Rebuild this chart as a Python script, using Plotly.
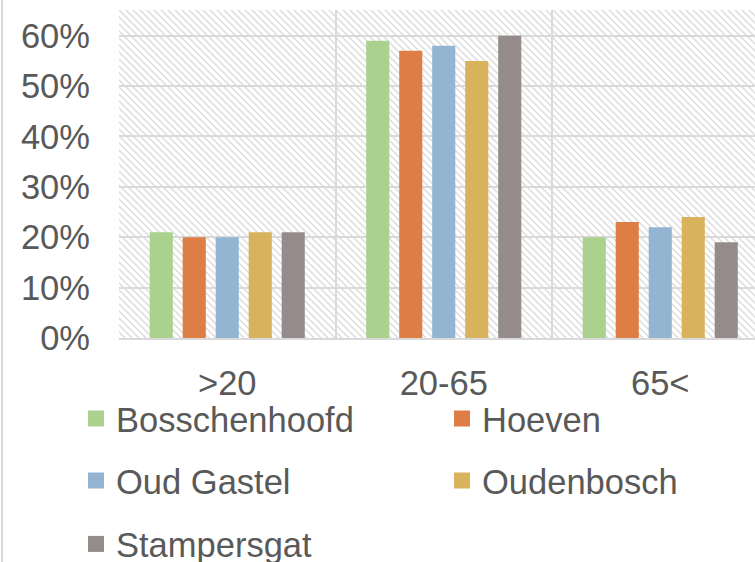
import base64
import plotly.graph_objects as go

categories = [">20", "20-65", "65<"]
series_names = ["Bosschenhoofd", "Hoeven", "Oud Gastel", "Oudenbosch", "Stampersgat"]
bosschenhoofd = [0.21, 0.59, 0.20]
hoeven = [0.20, 0.57, 0.23]
oud_gastel = [0.20, 0.58, 0.22]
oudenbosch = [0.21, 0.55, 0.24]
stampersgat = [0.21, 0.60, 0.19]
series_values = [bosschenhoofd, hoeven, oud_gastel, oudenbosch, stampersgat]
colors = ["#ABD18F", "#DD7E46", "#93B5D2", "#D8B25C", "#968B8B"]
y_tickvals = [0, 0.1, 0.2, 0.3, 0.4, 0.5, 0.6]

W, H = 755, 562
ML, MT, MR, MB = 119, 10, 0, 224
PW, PH = W - ML - MR, H - MT - MB
TXT = "#595959"
GRID = "#D9D9D9"
FONT = "Liberation Sans, Arial, sans-serif"
FS = 34.5

fig = go.Figure()
for name, vals, col in zip(series_names, series_values, colors):
    fig.add_trace(go.Bar(x=categories, y=vals, name=name, marker=dict(color=col, line=dict(width=0)),
                         showlegend=False))

legend_ids = ["legend", "legend2", "legend3", "legend4", "legend5"]
for name, col, lg in zip(series_names, colors, legend_ids):
    fig.add_trace(go.Scatter(x=[None], y=[None], mode="markers", name=name,
                             marker=dict(symbol="square", size=16, color=col),
                             legend=lg, showlegend=True))

# hatched plot background
P = 7
svg = (f'<svg xmlns="http://www.w3.org/2000/svg" width="{PW}" height="{PH}">'
       f'<defs><pattern id="p" patternUnits="userSpaceOnUse" width="{P}" height="{P}">'
       f'<path d="M0,0 L{P},{P} M-1,{P-1} L1,{P+1} M{P-1},-1 L{P+1},1" stroke="#DCDCDC" stroke-width="1.5"/>'
       '</pattern></defs>'
       f'<rect width="{PW}" height="{PH}" fill="white"/>'
       f'<rect width="{PW}" height="{PH}" fill="url(#p)"/></svg>')
src = "data:image/svg+xml;base64," + base64.b64encode(svg.encode()).decode()
fig.add_layout_image(dict(source=src, xref="paper", yref="paper", x=0, y=1, sizex=1, sizey=1,
                          xanchor="left", yanchor="top", sizing="stretch", layer="below"))

# outer chart border at left
fig.add_shape(type="line", xref="paper", yref="paper",
              x0=(2 - ML) / PW, x1=(2 - ML) / PW, y0=-(MB) / PH, y1=(PH + MT) / PH,
              line=dict(color=GRID, width=2))

cat_w = 216.5
x_hi = -0.5 + PW / cat_w

def leg(xpx, ypx):
    return dict(orientation="h", x=(xpx - ML) / PW, xanchor="left",
                y=(PH + MT - ypx) / PH, yanchor="middle",
                font=dict(family=FONT, size=FS, color=TXT), bgcolor="rgba(0,0,0,0)",
                itemsizing="trace")

fig.update_layout(
    width=W, height=H,
    margin=dict(l=ML, r=MR, t=MT, b=MB, autoexpand=False),
    paper_bgcolor="white", plot_bgcolor="white",
    barmode="group", bargap=0.238, bargroupgap=0.30,
    font=dict(family=FONT, size=FS, color=TXT),
    xaxis=dict(type="category", range=[-0.5, x_hi], tickson="boundaries", showgrid=True,
               gridcolor=GRID, gridwidth=1.5, showline=True, linecolor=GRID, linewidth=2,
               ticks="", ticklabelstandoff=14, tickfont=dict(family=FONT, size=FS, color=TXT),
               zeroline=False, fixedrange=True),
    yaxis=dict(range=[0, 0.651], tickvals=y_tickvals, tickformat=".0%", showgrid=True,
               gridcolor=GRID, gridwidth=1.5, zeroline=False, showline=False, ticks="",
               ticklabelstandoff=28, tickfont=dict(family=FONT, size=FS, color=TXT),
               fixedrange=True),
    legend=leg(76, 418.5),
    legend2=leg(442, 418.5),
    legend3=leg(76, 480.5),
    legend4=leg(442, 480.5),
    legend5=leg(76, 544),
)

fig.write_html("out.html", config={"displayModeBar": False},
               post_script="document.body.style.margin='0';")
